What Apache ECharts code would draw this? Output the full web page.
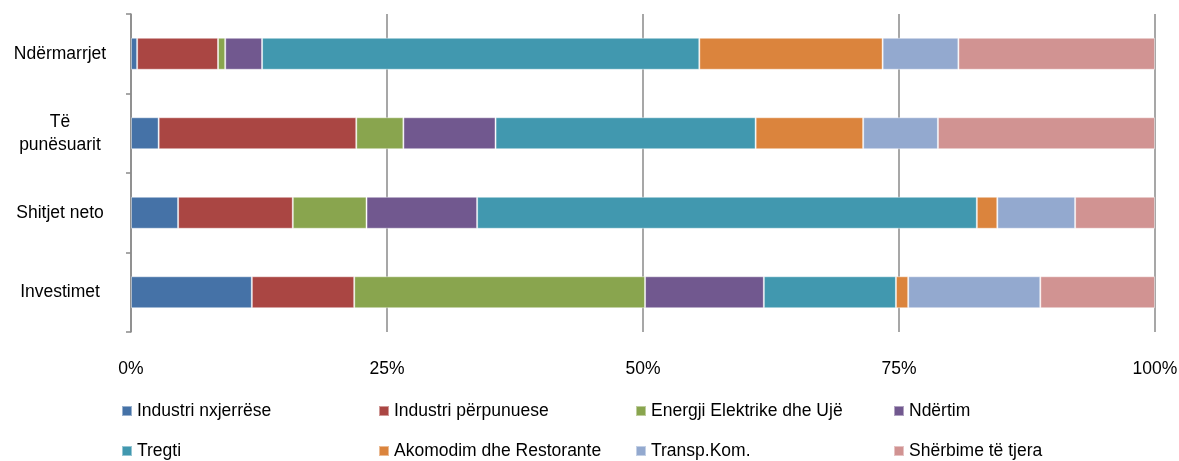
<!DOCTYPE html>
<html><head><meta charset="utf-8">
<script src="https://cdn.jsdelivr.net/npm/echarts@6/dist/echarts.min.js"></script>
<style>html,body{margin:0;padding:0;background:#fff}#c{width:1179px;height:461px}</style>
</head><body><div id="c"></div>
<script>
const categories = ['Ndërmarrjet', 'Të\npunësuarit', 'Shitjet neto', 'Investimet'];
const seriesNames = ['Industri nxjerrëse', 'Industri përpunuese', 'Energji Elektrike dhe Ujë', 'Ndërtim', 'Tregti', 'Akomodim dhe Restorante', 'Transp.Kom.', 'Shërbime të tjera'];
const industriNxjerrese = [0.6, 2.7, 4.6, 11.8];
const industriPerpunuese = [7.9, 19.3, 11.2, 10.0];
const energji = [0.7, 4.6, 7.2, 28.4];
const ndertim = [3.6, 9.0, 10.8, 11.6];
const tregti = [42.7, 25.4, 48.8, 12.9];
const akomodim = [17.9, 10.5, 2.0, 1.2];
const transp = [7.4, 7.3, 7.6, 12.9];
const sherbime = [19.2, 21.2, 7.8, 11.2];
const xTicks = [0, 25, 50, 75, 100];
const colors = ['#4572A7', '#AA4643', '#89A54E', '#71588F', '#4198AF', '#DB843D', '#93A9CF', '#D19392'];
const values = [industriNxjerrese, industriPerpunuese, energji, ndertim, tregti, akomodim, transp, sherbime];

const legendPos = [[121, 402], [378, 402], [635, 402], [893, 402], [121, 442], [378, 442], [635, 442], [893, 442]];
const font = '"Liberation Sans", Arial, sans-serif';
const fs = 17.5;

const chart = echarts.init(document.getElementById('c'), null, {renderer: 'canvas'});
chart.setOption({
  animation: false,
  color: colors,
  textStyle: {fontFamily: font},
  grid: {left: 131, right: 24, top: 14, bottom: 129, containLabel: false, outerBoundsMode: 'none'},
  legend: seriesNames.map((n, i) => ({
    data: [n], left: legendPos[i][0], top: legendPos[i][1], itemWidth: 10, itemHeight: 10, itemGap: 4,
    icon: 'rect', selectedMode: false, padding: 0,
    textStyle: {fontSize: fs, color: '#000', fontFamily: font}
  })),
  xAxis: {
    type: 'value', min: xTicks[0], max: xTicks[xTicks.length - 1], interval: 25,
    axisLine: {show: false}, axisTick: {show: false},
    splitLine: {show: true, lineStyle: {color: '#8a8a8a', width: 1.5}},
    axisLabel: {formatter: '{value}%', fontSize: fs, color: '#000', margin: 28, fontFamily: font}
  },
  yAxis: {
    type: 'category', data: categories, inverse: true,
    axisLine: {show: true, lineStyle: {color: '#8a8a8a', width: 1.5}},
    axisTick: {show: true, length: 5, lineStyle: {color: '#8a8a8a', width: 1.5}},
    axisLabel: {fontSize: fs, color: '#000', align: 'center', margin: 71, lineHeight: 23, fontFamily: font}
  },
  series: seriesNames.map((n, i) => ({
    name: n, type: 'bar', stack: 'total', barWidth: 32, data: values[i],
    itemStyle: {color: colors[i], borderColor: 'rgba(255,255,255,0.45)', borderWidth: 1}
  }))
});
</script></body></html>
